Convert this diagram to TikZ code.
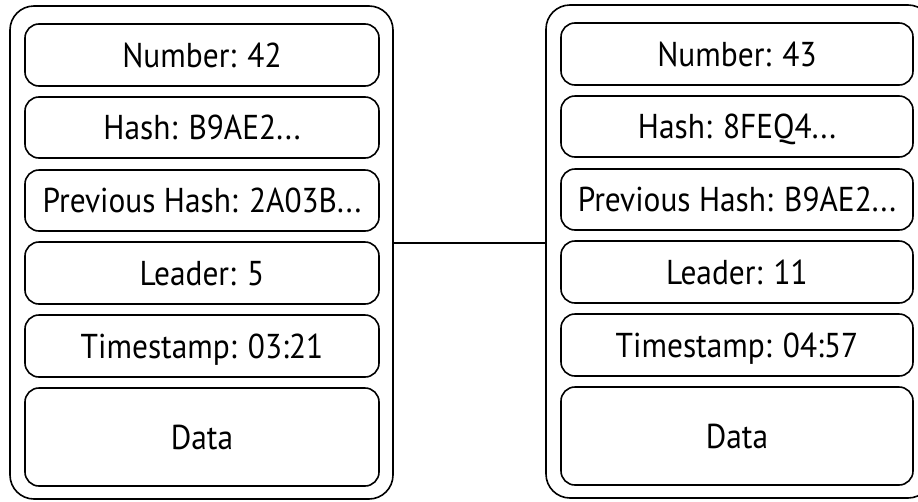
\documentclass[tikz,border=0pt]{standalone}
\usepackage{fontspec}
\setmainfont[FakeStretch=0.91]{PT Sans}
\begin{document}
\begin{tikzpicture}[x=1pt,y=-1pt,
  outer/.style={draw, line width=1.6pt, rounded corners=24pt, inner sep=0pt},
  field/.style={draw, line width=1.6pt, rounded corners=14pt, inner sep=0pt,
    font=\fontsize{34.5}{40}\selectfont, text height=24pt, text depth=0pt},
  link/.style={line width=1.6pt}]
\useasboundingbox (0,0) rectangle (918,501);
% left block
\node[outer, minimum width=383pt, minimum height=493pt] (L) at (201.5,252.5) {};
\node[field, minimum width=354pt, minimum height=62pt] (l1) at (202,55) {Number: 42};
\node[field, minimum width=354pt, minimum height=61pt] (l2) at (202,127.5) {Hash: B9AE2...};
\node[field, minimum width=354pt, minimum height=61pt] (l3) at (202,200.5) {Previous Hash: 2A03B...};
\node[field, minimum width=354pt, minimum height=62pt] (l4) at (202,273) {Leader: 5};
\node[field, minimum width=354pt, minimum height=62pt] (l5) at (202,346) {Timestamp: 03:21};
\node[field, minimum width=354pt, minimum height=98pt] (l6) at (202,437) {Data};
% right block
\node[outer, minimum width=386pt, minimum height=493pt] (R) at (739,251.5) {};
\node[field, minimum width=352pt, minimum height=62pt] (r1) at (737,54) {Number: 43};
\node[field, minimum width=352pt, minimum height=61pt] (r2) at (737,126.5) {Hash: 8FEQ4...};
\node[field, minimum width=352pt, minimum height=61pt] (r3) at (737,199.5) {Previous Hash: B9AE2...};
\node[field, minimum width=352pt, minimum height=62pt] (r4) at (737,272) {Leader: 11};
\node[field, minimum width=352pt, minimum height=62pt] (r5) at (737,345) {Timestamp: 04:57};
\node[field, minimum width=352pt, minimum height=98pt] (r6) at (737,436) {Data};
% connector
\coordinate (c) at (470,243);
\draw[link] (L.east |- c) -- (R.west |- c);
\end{tikzpicture}
\end{document}
